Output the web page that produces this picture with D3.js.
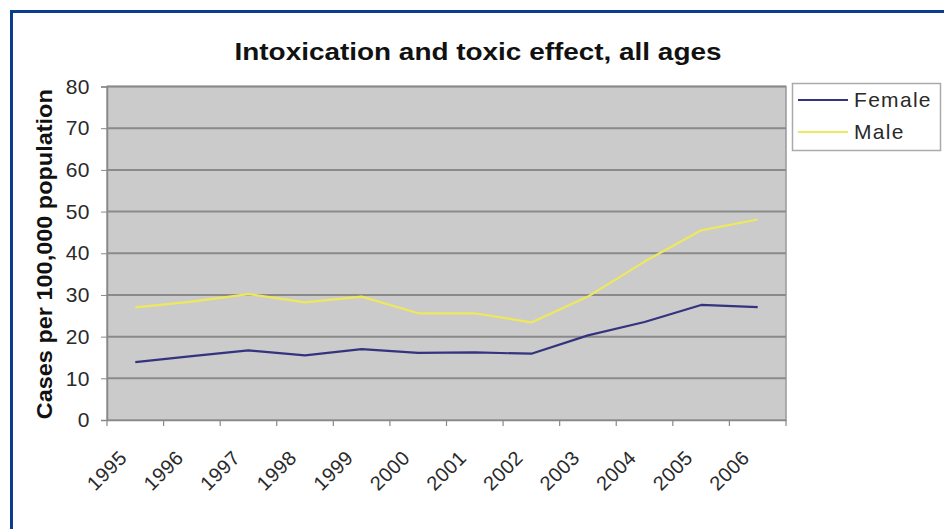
<!DOCTYPE html>
<html>
<head>
<meta charset="utf-8">
<script src="https://cdn.jsdelivr.net/npm/d3@7"></script>
<style>
  html, body { margin: 0; padding: 0; background: #fff; }
  svg { display: block; font-family: "Liberation Sans", Arial, sans-serif; }
</style>
</head>
<body>
<svg id="chart" width="944" height="529"></svg>
<script>
// Intoxication and toxic effect, cases per 100,000 population
const years = ["1995","1996","1997","1998","1999","2000","2001","2002","2003","2004","2005","2006"];
const female = [13.9, 15.3, 16.7, 15.5, 17.0, 16.1, 16.2, 15.9, 20.3, 23.5, 27.6, 27.1];
const male   = [27.0, 28.4, 30.2, 28.2, 29.6, 25.6, 25.6, 23.4, 29.6, 38.0, 45.5, 48.1];
const yTicks = [0, 10, 20, 30, 40, 50, 60, 70, 80];
const seriesNames = ["Female", "Male"];
const seriesColors = ["#33337f", "#eee85c"];

const svg = d3.select("#chart");

// outer blue frame
svg.append("rect")
  .attr("x", 11.5).attr("y", 11.5)
  .attr("width", 1000).attr("height", 600)
  .attr("fill", "none").attr("stroke", "#0b3d8f").attr("stroke-width", 3);

const plot = { left: 107, right: 786, top: 86.5, bottom: 420 };

const x = d3.scaleBand().domain(years).range([plot.left, plot.right]).padding(0);
const y = d3.scaleLinear().domain([0, 80]).range([plot.bottom, plot.top]);

// plot background
svg.append("rect")
  .attr("x", plot.left).attr("y", plot.top)
  .attr("width", plot.right - plot.left).attr("height", plot.bottom - plot.top)
  .attr("fill", "#cbcbcb").attr("stroke", "#999").attr("stroke-width", 1.5);

// horizontal gridlines
svg.append("g").selectAll("line")
  .data(yTicks.filter(d => d > 0))
  .join("line")
  .attr("x1", plot.left).attr("x2", plot.right)
  .attr("y1", d => y(d)).attr("y2", d => y(d))
  .attr("stroke", "#8a8a8a").attr("stroke-width", 2);

// y axis
const yAxis = svg.append("g")
  .attr("transform", `translate(${plot.left},0)`)
  .call(d3.axisLeft(y).tickValues(yTicks).tickSize(6).tickPadding(11));
yAxis.select(".domain").attr("stroke", "#888").attr("stroke-width", 1.5);
yAxis.selectAll(".tick line").attr("stroke", "#888");
yAxis.selectAll(".tick text")
  .attr("font-size", 21).attr("fill", "#2a2a2a").attr("letter-spacing", 0.5)
  .attr("font-family", "'Liberation Sans', Arial, sans-serif");

// x axis with ticks at category boundaries
const xAxis = svg.append("g")
  .attr("transform", `translate(0,${plot.bottom})`)
  .call(d3.axisBottom(x).tickSize(0).tickFormat(""));
xAxis.select(".domain").attr("stroke", "#888").attr("stroke-width", 1.5);
const boundaries = years.map(d => x(d)).concat([x.range()[1]]);
svg.append("g").selectAll("line")
  .data(boundaries)
  .join("line")
  .attr("x1", d => d).attr("x2", d => d)
  .attr("y1", plot.bottom).attr("y2", plot.bottom + 6)
  .attr("stroke", "#888").attr("stroke-width", 1.2);

// rotated year labels
svg.append("g").selectAll("text")
  .data(years)
  .join("text")
  .attr("transform", d => `translate(${x(d) + x.bandwidth() / 2 - 12},${plot.bottom + 34}) rotate(-45)`)
  .attr("text-anchor", "end")
  .attr("dy", "0.35em")
  .attr("font-size", 20).attr("fill", "#2a2a2a").attr("letter-spacing", 0.5)
  .text(d => d);

// series lines
const line = d3.line()
  .x((d, i) => x(years[i]) + x.bandwidth() / 2)
  .y(d => y(d));

[female, male].forEach((vals, k) => {
  svg.append("path")
    .datum(vals)
    .attr("d", line)
    .attr("fill", "none")
    .attr("stroke", seriesColors[k])
    .attr("stroke-width", 2.2)
    .attr("stroke-linejoin", "round");
});

// title
svg.append("text")
  .attr("x", 478).attr("y", 60)
  .attr("text-anchor", "middle")
  .attr("font-size", 24).attr("font-weight", "bold").attr("fill", "#111")
  .attr("textLength", 487).attr("lengthAdjust", "spacingAndGlyphs")
  .text("Intoxication and toxic effect, all ages");

// y axis title
svg.append("text")
  .attr("transform", `translate(52,${(plot.top + plot.bottom) / 2 + 1}) rotate(-90)`)
  .attr("text-anchor", "middle")
  .attr("font-size", 22).attr("font-weight", "bold").attr("fill", "#111")
  .attr("textLength", 330).attr("lengthAdjust", "spacingAndGlyphs")
  .text("Cases per 100,000 population");

// legend
const legend = svg.append("g");
legend.append("rect")
  .attr("x", 792.5).attr("y", 83.5).attr("width", 148).attr("height", 67)
  .attr("fill", "#fff").attr("stroke", "#aaa").attr("stroke-width", 1.5);
seriesNames.forEach((name, k) => {
  const ly = 100 + k * 32;
  legend.append("line")
    .attr("x1", 798).attr("x2", 848).attr("y1", ly).attr("y2", ly)
    .attr("stroke", seriesColors[k]).attr("stroke-width", 2);
  legend.append("text")
    .attr("x", 854).attr("y", ly).attr("dy", "0.35em")
    .attr("font-size", 21).attr("fill", "#2a2a2a").attr("letter-spacing", 1.3)
    .text(name);
});
</script>
</body>
</html>
